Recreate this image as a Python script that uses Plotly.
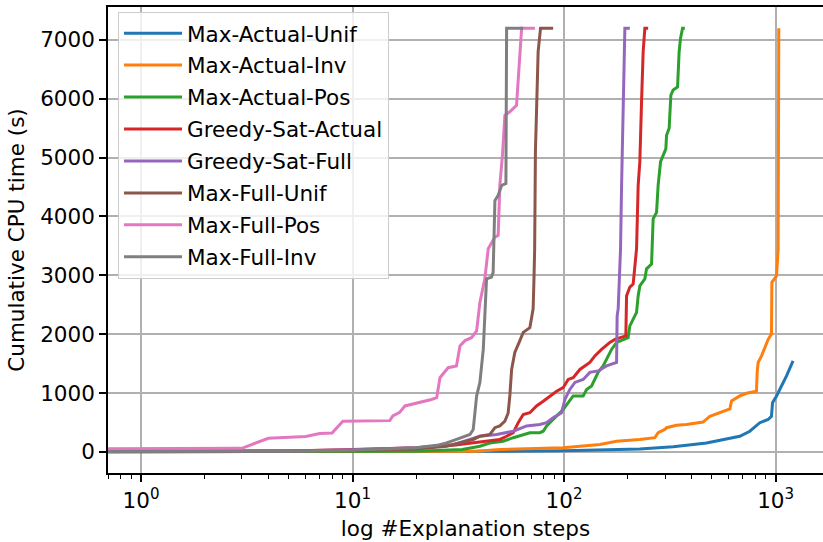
import plotly.graph_objects as go

# ---- data ----
names = ["Max-Actual-Unif", "Max-Actual-Inv", "Max-Actual-Pos", "Greedy-Sat-Actual",
         "Greedy-Sat-Full", "Max-Full-Unif", "Max-Full-Pos", "Max-Full-Inv"]
colors = ["#1f77b4", "#ff7f0e", "#2ca02c", "#d62728", "#9467bd", "#8c564b", "#e377c2", "#7f7f7f"]

max_actual_unif_x = [0.5, 20, 50, 100, 150, 228, 328, 471, 677, 755, 842, 922, 956, 967, 1010, 1047, 1126, 1209]
max_actual_unif_y = [0, 2, 10, 20, 35, 50, 85, 150, 265, 350, 495, 550, 605, 835, 950, 1060, 1290, 1545]

max_actual_inv_x = [0.5, 20, 38.7, 49.7, 99, 147.7, 177, 228, 268.6, 278.4, 299.5, 305, 340, 379, 454,
                    489, 545, 608, 619, 677, 729, 812, 818, 827, 858, 922, 956, 960, 1010, 1028, 1035]
max_actual_inv_y = [0, 3, 10, 40, 70, 125, 180, 210, 240, 325, 380, 410, 450, 465, 505,
                    605, 665, 730, 865, 950, 995, 1030, 1350, 1520, 1630, 1910, 2000, 2880, 2990, 3450, 7200]

max_actual_pos_x = [0.5, 10, 20, 33, 40, 44.6, 51.5, 57.5, 64.1, 68.9, 76.8, 79.7, 82.7, 88.8, 95.5,
                    99, 104.6, 110.4, 123.1, 127.8, 134.9, 139.8, 144.9, 153, 158.8, 167.7, 177.1,
                    190.3, 200.9, 204.6, 212.1, 220.1, 224, 228.1, 240.9, 245.4, 259.1, 263.7, 273.6,
                    278.4, 285.8, 294.1, 302.8, 305.1, 313.9, 319.7, 327.8, 343.9, 349.9, 355.3, 363.1, 372.4]
max_actual_pos_y = [0, 3, 8, 40, 95, 150, 180, 240, 295, 325, 325, 350, 440, 550, 665,
                    720, 835, 950, 950, 1060, 1120, 1230, 1350, 1460, 1570, 1740, 1860,
                    1910, 1940, 2140, 2260, 2370, 2650, 2820, 2940, 3110, 3190, 3960, 4070,
                    4530, 4930, 5040, 5150, 5380, 5500, 6060, 6150, 6200, 6800, 7030, 7200, 7200]

greedy_sat_actual_x = [0.5, 5, 10, 20, 30, 40, 44.6, 49.7, 53.5, 57.5, 60.7, 64.1, 68.9, 74.1, 79.7,
                       85.7, 92.2, 99.0, 104.6, 110.4, 118.8, 132.4, 139.8, 150.4, 164.6, 173.9, 187,
                       195.9, 197.4, 204.6, 212.1, 216.1, 220.1, 224, 228.1, 232.4, 236.5, 240.9, 249.7]
greedy_sat_actual_y = [5, 15, 40, 70, 110, 160, 180, 210, 265, 325, 495, 635, 665, 780, 860,
                       950, 1030, 1090, 1230, 1260, 1400, 1520, 1630, 1740, 1860, 1910, 1940,
                       1970, 2650, 2800, 2850, 3110, 3450, 4530, 4930, 5950, 6800, 7200, 7200]

greedy_sat_full_x = [0.5, 5, 10, 20, 30, 40, 48, 57.5, 66.5, 76.8, 82.7, 88.8, 97.3, 100.9, 106.5,
                     112.5, 123.1, 132.4, 144.9, 158.8, 177.1, 178.2, 180.2, 183.5, 184.9, 187, 190.3,
                     193.8, 204.6]
greedy_sat_full_y = [5, 12, 35, 70, 120, 265, 295, 350, 440, 465, 495, 580, 665, 890, 1060,
                     1180, 1230, 1350, 1375, 1460, 1520, 2310, 2430, 3110, 3450, 4530, 5670,
                     7200, 7200]

max_full_unif_x = [0.5, 5, 10, 20, 27.8, 37.2, 40, 44.6, 47.1, 49.7, 52.5, 54.4, 55.4, 56.5, 58.5,
                   61.8, 64.1, 68.9, 71.4, 72.0, 72.6, 73.2, 74.1, 75.4, 77.4, 88.8]
max_full_unif_y = [5, 10, 20, 50, 95, 210, 265, 295, 410, 440, 520, 660, 950, 1400, 1690,
                   1890, 2030, 2110, 2430, 2890, 3450, 5100, 5670, 6800, 7200, 7200]

max_full_pos_x = [0.5, 1, 2, 3, 4, 6, 7, 8, 9, 15, 15.5, 16.7, 17.7, 20.8, 23.6, 25, 25.9, 28.3,
                  31, 32.2, 34, 36.5, 38.6, 40, 42.2, 43.8, 47.1, 48.8, 49.7, 51.2, 52.5, 55.4,
                  59.6, 63, 72.8]
max_full_pos_y = [50, 50, 55, 60, 230, 260, 310, 320, 520, 530, 610, 670, 780, 835, 890, 920, 1260, 1430,
                  1460, 1800, 1890, 1940, 2055, 2540, 2940, 3450, 3650, 3680, 4530, 5070, 5720, 5780,
                  5890, 7200, 7200]

max_full_inv_x = [0.5, 5, 10, 15, 20, 25, 27.8, 31, 35.9, 37.2, 38.6, 40, 41.5, 42.2, 43, 45.4,
                  46.2, 47.1, 48.8, 50.7, 53.1, 53.5, 64.1]
max_full_inv_y = [5, 10, 25, 50, 70, 110, 150, 210, 295, 380, 950, 1180, 1740, 2310, 2940, 2970,
                  3050, 4270, 4360, 4530, 4560, 7200, 7200]

series_x = [max_actual_unif_x, max_actual_inv_x, max_actual_pos_x, greedy_sat_actual_x,
            greedy_sat_full_x, max_full_unif_x, max_full_pos_x, max_full_inv_x]
series_y = [max_actual_unif_y, max_actual_inv_y, max_actual_pos_y, greedy_sat_actual_y,
            greedy_sat_full_y, max_full_unif_y, max_full_pos_y, max_full_inv_y]

x_tickvals = [1, 10, 100, 1000]
x_ticktext = ["10<sup>0</sup>", "10<sup>1</sup>", "10<sup>2</sup>", "10<sup>3</sup>"]
y_tickvals = [0, 1000, 2000, 3000, 4000, 5000, 6000, 7000]
minor_vals = [m * 10 ** k for k in range(-1, 4) for m in range(2, 10)]

FONT = "DejaVu Sans"
FS = 21.5

fig = go.Figure()
for i, (name, col, xs, ys) in enumerate(zip(names, colors, series_x, series_y)):
    fig.add_trace(go.Scatter(x=xs, y=ys, mode="lines", name=name, legendgroup=f"g{i}",
                             line=dict(color=col, width=3)))

fig.update_layout(
    width=823, height=542,
    margin=dict(l=108, r=0, t=7, b=69),
    paper_bgcolor="white", plot_bgcolor="white",
    font=dict(family=FONT, size=FS, color="black"),
    showlegend=True,
    legend=dict(x=0.014, y=0.99, xanchor="left", yanchor="top",
                bgcolor="rgba(255,255,255,0.8)", bordercolor="#cccccc", borderwidth=1,
                font=dict(family=FONT, size=FS, color="black"),
                tracegroupgap=1, itemwidth=58),
)
fig.update_xaxes(
    type="log", range=[-0.156, 3.224],
    tickmode="array", tickvals=x_tickvals, ticktext=x_ticktext,
    ticks="outside", ticklen=7, tickwidth=1.6, tickcolor="black",
    showline=True, linecolor="black", linewidth=1.6, mirror=True,
    showgrid=True, gridcolor="#b0b0b0", gridwidth=1.6,
    zeroline=False,
    minor=dict(tickmode="array", tickvals=minor_vals, ticks="outside", ticklen=4,
               tickwidth=1.2, tickcolor="black", showgrid=False),
    title=dict(text="log #Explanation steps", font=dict(family=FONT, size=FS), standoff=9),
    tickfont=dict(family=FONT, size=FS),
)
fig.update_yaxes(
    range=[-360, 7560],
    tickmode="array", tickvals=y_tickvals,
    ticks="outside", ticklen=7, tickwidth=1.6, tickcolor="black",
    showline=True, linecolor="black", linewidth=1.6, mirror=False,
    showgrid=True, gridcolor="#b0b0b0", gridwidth=1.6,
    zeroline=False,
    title=dict(text="Cumulative CPU time (s)", font=dict(family=FONT, size=FS), standoff=10),
    tickfont=dict(family=FONT, size=FS),
)

fig.write_html("out.html")
